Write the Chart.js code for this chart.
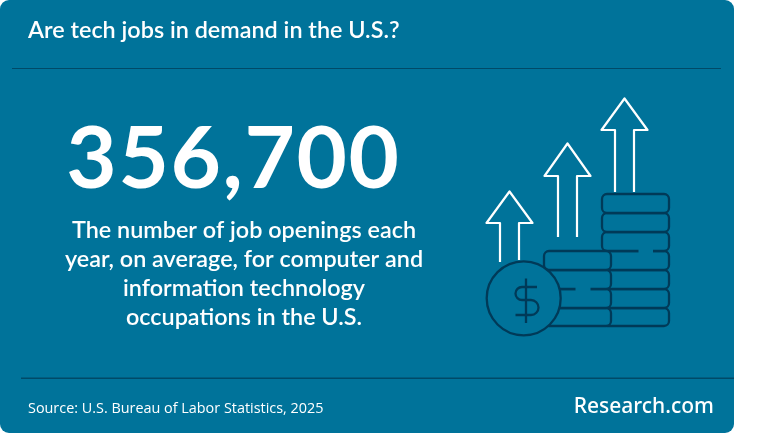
<!DOCTYPE html>
<html><head><meta charset="utf-8">
<style>html,body{margin:0;padding:0;background:#fff}canvas{display:block}</style>
<script src="https://cdn.jsdelivr.net/npm/chart.js@4"></script>
</head><body>
<canvas id="c" width="768" height="433"></canvas>
<script>
const categories = ["Job openings per year"];
const headlineValues = [356700];
const titleText = "Are tech jobs in demand in the U.S.?";
const bodyLines = ["The number of job openings each","year, on average, for computer and","information technology","occupations in the U.S."];
const sourceText = "Source: U.S. Bureau of Labor Statistics, 2025";
const brandText = "Research.com";

const BG = "#00739a", DARK = "#003a58", RULE = "#004a68";

function rr(ctx,x,y,w,h,r){ctx.beginPath();ctx.roundRect(x,y,w,h,r);}
function coin(ctx,x,y,w,h){rr(ctx,x,y,w,h,5);ctx.fillStyle=BG;ctx.fill();ctx.stroke();}
function arrow(ctx,cx,tip,wing,bl,br){
  ctx.beginPath();
  ctx.moveTo(cx-9.5,bl);ctx.lineTo(cx-9.5,wing);ctx.lineTo(cx-23,wing);ctx.lineTo(cx,tip);
  ctx.lineTo(cx+23,wing);ctx.lineTo(cx+9.5,wing);ctx.lineTo(cx+9.5,br);ctx.stroke();
}
const artwork = {
  id:"artwork",
  beforeDraw(chart){
    const ctx=chart.ctx;ctx.save();
    ctx.fillStyle="#fff";ctx.fillRect(0,0,768,433);
    rr(ctx,0,0,734,433,9);ctx.fillStyle=BG;ctx.fill();
    ctx.fillStyle=RULE;ctx.fillRect(12,68,709,1);
    ctx.fillRect(21,377.5,713,1.5);
    ctx.strokeStyle="#fff";ctx.lineWidth=2.2;ctx.lineJoin="round";ctx.lineCap="butt";
    arrow(ctx,509.5,191.5,223,262,260);
    arrow(ctx,567.5,143.5,176,237,237);
    arrow(ctx,624.5,98.5,130,192,192);
    ctx.strokeStyle=DARK;ctx.lineWidth=2.3;
    const ry=[194,213,232,251,270,289,308,326];
    for(let i=ry.length-2;i>=0;i--)coin(ctx,602,ry[i],67,ry[i+1]-ry[i]);
    ctx.fillStyle=BG;ctx.fillRect(638.5,249,14.5,4);
    const ly=[251,270,289,308,326];
    for(let i=ly.length-2;i>=0;i--)coin(ctx,544,ly[i],67,ly[i+1]-ly[i]);
    ctx.fillStyle=BG;ctx.fillRect(575.5,287,15,4);
    ctx.beginPath();ctx.arc(523.7,298.3,37,0,Math.PI*2);ctx.fillStyle=BG;ctx.fill();ctx.stroke();
    ctx.beginPath();ctx.moveTo(526,278.5);ctx.lineTo(526,323);ctx.stroke();
    ctx.beginPath();ctx.moveTo(537,287);ctx.lineTo(522,287);
    ctx.arc(522,293.5,6.5,-Math.PI/2,Math.PI/2,true);
    ctx.lineTo(531,300);
    ctx.arc(531,307.5,7.5,-Math.PI/2,Math.PI/2,false);
    ctx.lineTo(515.5,315);ctx.stroke();
    ctx.restore();
  },
  afterDraw(chart){
    const ctx=chart.ctx;ctx.save();ctx.fillStyle="#fff";ctx.textBaseline="alphabetic";
    ctx.textAlign="left";
    ctx.font="600 23.4px Lato";ctx.fillText(titleText,28,38);
    ctx.textAlign="center";
    const v=chart.data.datasets[0].data[0];
    ctx.font="700 87px Lato";ctx.letterSpacing="1.6px";ctx.fillText(v.toLocaleString("en-US"),233.5,188);ctx.letterSpacing="0px";
    ctx.font="600 23.4px Lato";
    [238,267,296,325].forEach((y,i)=>ctx.fillText(bodyLines[i],244,y));
    ctx.textAlign="left";
    ctx.font="500 14.4px 'Open Sans'";ctx.fillText(sourceText,28,413);
    ctx.textAlign="right";
    ctx.font="500 21px 'Noto Sans'";ctx.fillText(brandText,714,413);
    ctx.restore();
  }
};
new Chart(document.getElementById("c"),{
  type:"bar",
  data:{labels:categories,datasets:[{label:categories[0],data:headlineValues,backgroundColor:"rgba(0,0,0,0)",borderWidth:0}]},
  options:{responsive:false,animation:false,devicePixelRatio:1,
    layout:{padding:0},
    plugins:{legend:{display:false},tooltip:{enabled:false},title:{display:false}},
    scales:{x:{display:false},y:{display:false,beginAtZero:true}}},
  plugins:[artwork]
});
</script>
</body></html>
